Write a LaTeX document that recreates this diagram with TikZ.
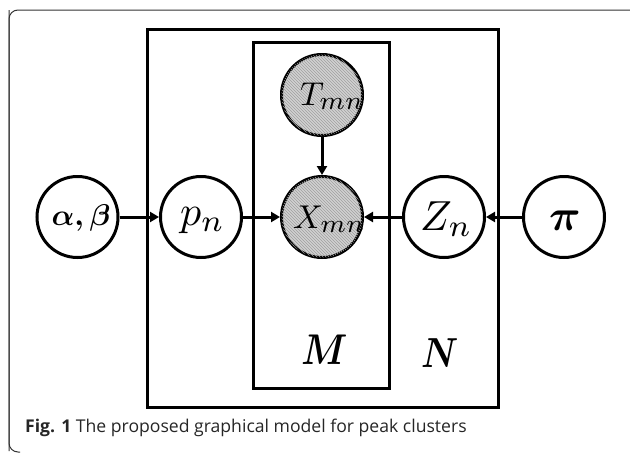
\documentclass[tikz,border=0pt]{standalone}
\usepackage{amsmath}
\usepackage{graphicx}
\usepackage{fontspec}
\newfontfamily\capfont{Open Sans}
\usetikzlibrary{arrows.meta,patterns}
% place #3 with its baseline-left point at (#1,#2) relative to the node centre
\newcommand{\placetext}[3]{\makebox[0pt][l]{\hspace*{#1}\raisebox{#2}[0pt][0pt]{#3}}}
\newcommand{\subbig}[2]{\scalebox{#1}{$\scriptstyle #2$}}
\begin{document}
\begin{tikzpicture}[x=1pt,y=-1pt,
  var/.style={circle,draw=black,line width=3pt,minimum size=81pt,inner sep=0pt},
  obs/.style={var,fill=gray!35,postaction={pattern=north west lines,pattern color=gray!75}},
  plate/.style={draw=black,line width=3pt},
  edge/.style={line width=3pt,-{Triangle[length=9pt,width=10pt]}},
  platelabel/.style={inner sep=0pt,anchor=base west}
]
\useasboundingbox (0,0) rectangle (630,453);
% outer frame
\draw[line width=1pt,black!80,rounded corners=9pt] (9,451) -- (9,10) -- (634,10);
\draw[line width=1pt,black!80,rounded corners=9pt] (9,10) -- (9,452) -- (20,452);
% plates
\draw[plate] (147,29) rectangle (498,407);
\draw[plate] (253,42) rectangle (389,388);
% nodes
\node[obs] (T) at (322,95) {\placetext{-22pt}{-10pt}{\scalebox{3.3}{$T_{\subbig{1.1}{mn}}$}}};
\node[obs] (X) at (322,217) {\placetext{-29pt}{-11pt}{\scalebox{3.3}{$X_{\subbig{1.1}{mn}}$}}};
\node[var] (ab) at (77.5,217) {\placetext{-26pt}{-8pt}{\scalebox{3.0}{$\boldsymbol{\alpha,\beta}$}}};
\node[var] (p) at (201,217) {\placetext{-21pt}{-8pt}{\scalebox{4.2}{$p_{\subbig{1.05}{n}}$}}};
\node[var] (Z) at (444,217) {\placetext{-24pt}{-13pt}{\scalebox{4.2}{$Z_{\subbig{1.05}{n}}$}}};
\node[var] (pi) at (564,217) {\placetext{-15pt}{-13pt}{\scalebox{4.4}{$\boldsymbol{\pi}$}}};
% plate labels
\node[platelabel] (M) at (301,364) {\scalebox{3.7}[4.3]{$\boldsymbol{M}$}};
\node[platelabel] (N) at (421,367) {\scalebox{3.5}[4.2]{$\boldsymbol{N}$}};
% edges
\draw[edge] (ab) -- (p);
\draw[edge] (p) -- (X);
\draw[edge] (T) -- (X);
\draw[edge] (Z) -- (X);
\draw[edge] (pi) -- (Z);
% caption
\node[anchor=base west,inner sep=0pt,font=\capfont\fontsize{17.6}{20}\selectfont,text=black!85] (cap) at (25,432)
  {\textbf{Fig. 1} The proposed graphical model for peak clusters};
\end{tikzpicture}
\end{document}
